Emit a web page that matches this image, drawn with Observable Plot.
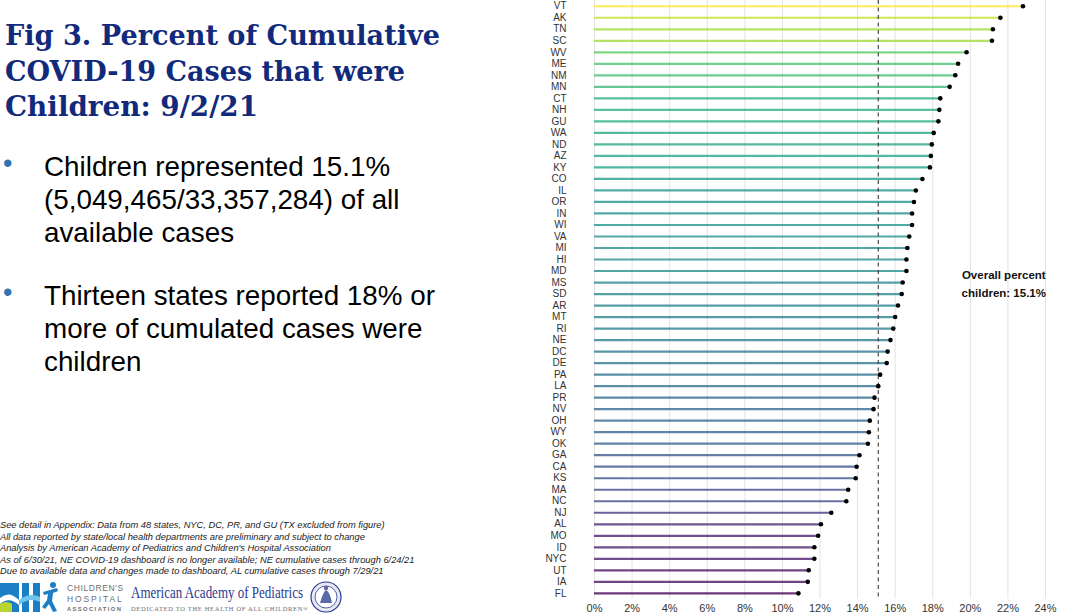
<!DOCTYPE html>
<html>
<head>
<meta charset="utf-8">
<script src="https://cdn.jsdelivr.net/npm/d3@7"></script>
<script src="https://cdn.jsdelivr.net/npm/@observablehq/plot@0.6"></script>
<style>
  html, body { margin: 0; padding: 0; background: #fff; }
  body { width: 1081px; height: 615px; overflow: hidden; position: relative; font-family: "Liberation Sans", Arial, sans-serif; }
  #left { position: absolute; left: 0; top: 0; }
  #chart { position: absolute; left: 520px; top: 0; }
</style>
</head>
<body>
<svg id="left" width="520" height="615" xmlns="http://www.w3.org/2000/svg">
  <g font-family="DejaVu Serif, Georgia, serif" font-weight="bold" font-size="28" fill="#112a7c">
    <text x="5" y="45" textLength="435" lengthAdjust="spacingAndGlyphs">Fig 3. Percent of Cumulative</text>
    <text x="5" y="80.5" textLength="400" lengthAdjust="spacingAndGlyphs">COVID-19 Cases that were</text>
    <text x="5" y="116" textLength="253" lengthAdjust="spacingAndGlyphs">Children: 9/2/21</text>
  </g>
  <g font-family="Liberation Sans, Arial, sans-serif" font-size="27.8" fill="#000">
    <text x="3" y="172" font-size="27" fill="#2e75b6">•</text>
    <text x="44" y="176">Children represented 15.1%</text>
    <text x="44" y="209">(5,049,465/33,357,284) of all</text>
    <text x="44" y="242">available cases</text>
    <text x="3" y="301" font-size="27" fill="#2e75b6">•</text>
    <text x="44" y="305">Thirteen states reported 18% or</text>
    <text x="44" y="338">more of cumulated cases were</text>
    <text x="44" y="371">children</text>
  </g>
  <g font-family="Liberation Sans, Arial, sans-serif" font-style="italic" font-size="9.3" fill="#222">
    <text x="0" y="528">See detail in Appendix: Data from 48 states, NYC, DC, PR, and GU (TX excluded from figure)</text>
    <text x="0" y="539.5">All data reported by state/local health departments are preliminary and subject to change</text>
    <text x="0" y="551">Analysis by American Academy of Pediatrics and Children's Hospital Association</text>
    <text x="0" y="562.5">As of 6/30/21, NE COVID-19 dashboard is no longer available; NE cumulative cases through 6/24/21</text>
    <text x="0" y="574">Due to available data and changes made to dashboard, AL cumulative cases through 7/29/21</text>
  </g>
  <!-- Children's Hospital Association logo (approximation) -->
  <g>
    <rect x="0" y="583" width="19" height="29" fill="#1c7fc6"/>
    <path d="M0,598 Q9,590 19,600 L19,605 Q9,596 0,604 Z" fill="#ffffff"/>
    <path d="M0,604 Q6,600 12,604 L12,612 L0,612 Z" fill="#b9d532"/>
    <rect x="22" y="583" width="7" height="29" fill="#1c7fc6"/>
    <rect x="33" y="583" width="7" height="29" fill="#1c7fc6"/>
    <path d="M19,600 Q30,592 40,597 L40,602 Q30,597 19,605 Z" fill="#6fc3ec"/>
    <circle cx="53" cy="585" r="3" fill="#1c7fc6"/>
    <path d="M43,592 L57,588 L58,591 L53,593 L52,601 L57,611 L53,612 L49,604 L45,609 L42,607 L47,600 L48,594 L44,595 Z" fill="#1c7fc6"/>
    <g font-family="Liberation Sans, Arial, sans-serif" fill="#6d6e71">
      <text x="67" y="591" font-size="8.5" letter-spacing="0.6">CHILDREN'S</text>
      <text x="67" y="601.5" font-size="8.5" letter-spacing="1.9">HOSPITAL</text>
      <text x="67" y="611" font-size="5.8" font-weight="bold" letter-spacing="1.4">ASSOCIATION</text>
    </g>
  </g>
  <!-- AAP logo text -->
  <g font-family="Liberation Serif, Times New Roman, serif">
    <text x="131" y="598" font-size="16.5" fill="#2b3990" textLength="172" lengthAdjust="spacingAndGlyphs">American Academy of Pediatrics</text>
    <text x="131" y="611" font-size="6.5" fill="#6d6e71" textLength="177" lengthAdjust="spacing">DEDICATED TO THE HEALTH OF ALL CHILDREN®</text>
  </g>
  <g>
    <circle cx="326" cy="597" r="15" fill="#e8eaf3" stroke="#2b3990" stroke-width="1.2"/>
    <circle cx="326" cy="597" r="11" fill="#ffffff" stroke="#2b3990" stroke-width="0.8"/>
    <path d="M320,603 Q323,592 326,590 Q330,592 332,603 Z" fill="#5a6aa8"/>
    <circle cx="326" cy="588" r="2.2" fill="#5a6aa8"/>
  </g>
</svg>
<div id="chart"></div>
<script>
const states = ["VT","AK","TN","SC","WV","ME","NM","MN","CT","NH","GU","WA","ND","AZ","KY","CO","IL","OR","IN","WI","VA","MI","HI","MD","MS","SD","AR","MT","RI","NE","DC","DE","PA","LA","PR","NV","OH","WY","OK","GA","CA","KS","MA","NC","NJ","AL","MO","ID","NYC","UT","IA","FL"];
const percents = [22.8,21.6,21.2,21.15,19.8,19.35,19.2,18.9,18.4,18.35,18.3,18.05,17.95,17.9,17.85,17.45,17.1,17.0,16.9,16.9,16.75,16.65,16.6,16.6,16.4,16.35,16.15,16.0,15.9,15.75,15.6,15.55,15.2,15.1,14.9,14.85,14.65,14.6,14.55,14.1,13.95,13.9,13.5,13.4,12.6,12.05,11.9,11.7,11.7,11.4,11.35,10.85];
const overall = 15.1;
const xTicks = [0,2,4,6,8,10,12,14,16,18,20,22,24];

const data = states.map((s, i) => ({state: s, pct: percents[i]}));

const chart = Plot.plot({
  width: 561,
  height: 615,
  marginLeft: 74,
  marginRight: 36,
  marginTop: 0,
  marginBottom: 16.4,
  style: {fontFamily: "Liberation Sans, Arial, sans-serif", fontSize: "10px", color: "#333", background: "transparent"},
  x: {domain: [0, 24], ticks: xTicks, tickFormat: d => d + "%", tickSize: 0, tickPadding: 5, label: null},
  y: {type: "point", domain: states, padding: 0.5, round: false, tickSize: 0, tickPadding: 28, label: null},
  color: {type: "linear", scheme: "viridis", domain: [d3.min(percents), d3.max(percents)]},
  marks: [
    Plot.ruleX(xTicks, {stroke: "#e3e3e3", strokeWidth: 1}),
    Plot.ruleY(data, {y: "state", x1: 0, x2: "pct", stroke: "pct", strokeWidth: 2.2, strokeOpacity: 0.78}),
    Plot.ruleX([overall], {stroke: "#3a3a3a", strokeWidth: 1.1, strokeDasharray: "4,3.5"}),
    Plot.dot(data, {x: "pct", y: "state", r: 2.3, fill: "#000", stroke: "none"}),
    Plot.text(["Overall percent\nchildren: " + overall + "%"], {x: 21.78, y: ["MS"], text: d => d, fontWeight: "bold", fontSize: 11.5, lineHeight: 1.55, fill: "#111"})
  ]
});
chart.querySelectorAll('[aria-label="x-axis tick label"] text').forEach(t => t.setAttribute("font-size", "11"));
document.getElementById("chart").appendChild(chart);
</script>
</body>
</html>
